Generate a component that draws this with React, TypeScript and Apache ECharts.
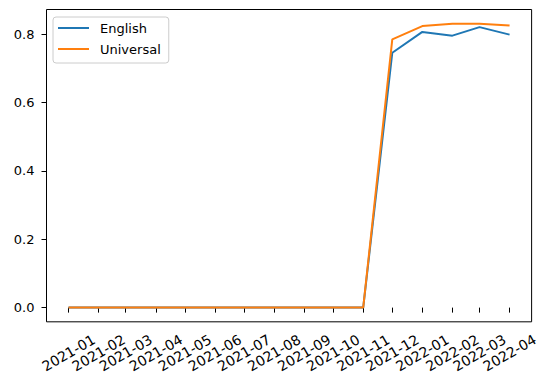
import React, { useEffect, useRef } from "react";
import * as echarts from "echarts";

const months: string[] = [
  "2021-01", "2021-02", "2021-03", "2021-04", "2021-05", "2021-06", "2021-07", "2021-08",
  "2021-09", "2021-10", "2021-11", "2021-12", "2022-01", "2022-02", "2022-03", "2022-04",
];
const english: number[] = [0, 0, 0, 0, 0, 0, 0, 0, 0, 0, 0, 0.746, 0.807, 0.796, 0.821, 0.799];
const universal: number[] = [0, 0, 0, 0, 0, 0, 0, 0, 0, 0, 0, 0.785, 0.824, 0.831, 0.831, 0.826];
const yTicks: number[] = [0, 0.2, 0.4, 0.6, 0.8];

const toTs = (m: string) => {
  const [y, mo] = m.split("-").map(Number);
  return Date.UTC(y, mo - 1, 1);
};
const fmt = (ts: number) => {
  const d = new Date(ts);
  return `${d.getUTCFullYear()}-${String(d.getUTCMonth() + 1).padStart(2, "0")}`;
};

export default function App() {
  const ref = useRef<HTMLDivElement>(null);
  useEffect(() => {
    if (!ref.current) return;
    const chart = echarts.init(ref.current, undefined, { renderer: "svg" });
    const xs = months.map(toTs);
    const span = xs[xs.length - 1] - xs[0];
    const yMaxData = Math.max(...english, ...universal);
    const yMin = -0.05 * yMaxData;
    const yMax = yMaxData * 1.05;
    const font = "DejaVu Sans";
    chart.setOption({
      animation: false,
      textStyle: { fontFamily: font },
      grid: {
        left: 46.5,
        right: 9,
        top: 9.5,
        bottom: 52,
        show: true,
        borderColor: "#000",
        borderWidth: 1,
        backgroundColor: "transparent",
      },
      legend: {
        left: 53,
        top: 17,
        orient: "vertical",
        padding: [4, 8, 7, 5],
        itemGap: 7,
        itemWidth: 31,
        itemHeight: 2,
        icon: "rect",
        borderColor: "#cccccc",
        borderWidth: 1,
        borderRadius: 3,
        backgroundColor: "rgba(255,255,255,0.8)",
        textStyle: {
          fontFamily: font,
          fontSize: 13,
          color: "#000",
          lineHeight: 14,
          padding: [0, 0, 0, 6],
        },
        data: ["English", "Universal"],
      },
      xAxis: {
        type: "value",
        min: xs[0] - span * 0.05,
        max: xs[xs.length - 1] + span * 0.05,
        splitLine: { show: false },
        axisLine: { show: false },
        axisTick: {
          show: true,
          length: 5,
          lineStyle: { color: "#000" },
          customValues: xs,
        },
        axisLabel: {
          customValues: xs,
          formatter: (v: number) => fmt(v),
          rotate: 30,
          align: "center",
          verticalAlign: "middle",
          margin: 31,
          fontFamily: font,
          fontSize: 14,
          color: "#000",
        },
      },
      yAxis: {
        type: "value",
        min: yMin,
        max: yMax,
        splitLine: { show: false },
        axisLine: { show: false },
        axisTick: {
          show: true,
          length: 5,
          lineStyle: { color: "#000" },
          customValues: yTicks,
        },
        axisLabel: {
          customValues: yTicks,
          formatter: (v: number) => v.toFixed(1),
          margin: 12,
          fontFamily: font,
          fontSize: 13,
          color: "#000",
        },
      },
      series: [
        {
          name: "English",
          type: "line",
          data: xs.map((x, i) => [x, english[i]]),
          showSymbol: false,
          symbol: "none",
          lineStyle: { color: "#1f77b4", width: 2 },
          itemStyle: { color: "#1f77b4" },
        },
        {
          name: "Universal",
          type: "line",
          data: xs.map((x, i) => [x, universal[i]]),
          showSymbol: false,
          symbol: "none",
          lineStyle: { color: "#ff7f0e", width: 2 },
          itemStyle: { color: "#ff7f0e" },
        },
      ],
    });
    return () => chart.dispose();
  }, []);
  return (
    <div
      ref={ref}
      style={{ position: "fixed", left: 0, top: 0, width: 541, height: 375, background: "#fff" }}
    />
  );
}
